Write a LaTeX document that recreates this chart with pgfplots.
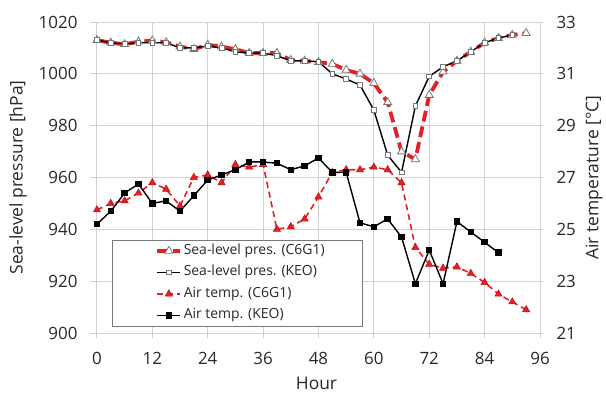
\documentclass[border=0pt]{standalone}
\usepackage{pgfplots}
\pgfplotsset{compat=1.18}
\usepackage{fontspec}
\setmainfont{Open Sans}

\definecolor{cred}{RGB}{226,32,38}
\definecolor{cdred}{RGB}{190,20,25}
\definecolor{cgrid}{RGB}{210,210,210}
\definecolor{cmark}{RGB}{120,120,120}
\definecolor{ctext}{RGB}{40,40,40}

% Sea-level pressure [hPa]
\pgfplotstableread{
h p
0 1013
3 1012
6 1011.4
9 1012.4
12 1012.8
15 1012.2
18 1010.5
21 1009.5
24 1011.2
27 1010.5
30 1009.5
33 1008
36 1008
39 1008
42 1005.3
45 1005
48 1004.5
51 1003.8
54 1001.5
57 1000
60 996.4
63 989
66 970
69 967
72 991.8
75 1000.8
78 1005
81 1008.5
84 1012
87 1013.8
90 1015
93 1015.7
}\presCsix

\pgfplotstableread{
h p
0 1013
3 1012
6 1011.5
9 1012
12 1012
15 1012
18 1010
21 1010
24 1010.7
27 1010
30 1008.5
33 1008
36 1008
39 1007
42 1005
45 1005
48 1004.7
51 1000
54 998
57 995.7
60 986
63 968.6
66 962
69 987.6
72 999
75 1002.7
78 1005
81 1008.5
84 1012
87 1013.8
90 1015
}\presKEO

% Air temperature [deg C]
\pgfplotstableread{
h t
0 25.75
3 26.0
6 26.1
9 26.4
12 26.8
15 26.55
18 25.9
21 27.0
24 27.1
27 26.8
30 27.5
33 27.4
36 27.5
39 25.0
42 25.1
45 25.4
48 26.25
51 27.2
54 27.3
57 27.3
60 27.4
63 27.3
66 26.8
69 24.3
72 23.65
75 23.5
78 23.55
81 23.3
84 22.95
87 22.5
90 22.2
93 21.9
}\tempCsix

\pgfplotstableread{
h t
0 25.2
3 25.7
6 26.4
9 26.75
12 26.0
15 26.1
18 25.7
21 26.3
24 26.9
27 27.1
30 27.3
33 27.6
36 27.6
39 27.55
42 27.3
45 27.45
48 27.75
51 27.2
54 27.2
57 25.25
60 25.1
63 25.4
66 24.7
69 22.9
72 24.2
75 22.9
78 25.3
81 24.9
84 24.5
87 24.1
}\tempKEO

\pgfplotsset{
  common/.style={
    scale only axis,
    width=453bp, height=311bp,
    xmin=-1.5, xmax=96.65,
    xtick={0,12,...,96},
    /pgf/number format/assume math mode=true,
    /pgf/number format/1000 sep={},
    ticklabel style={font=\fontsize{17}{20}\selectfont, text=ctext},
    clip=false,
  },
  presC/.style={cred, line width=3.8bp, dash pattern=on 11bp off 5bp,
    mark=triangle*, mark size=4.6bp,
    mark options={solid, fill=white, draw=cmark, line width=0.8bp}},
  presK/.style={black, line width=1.4bp,
    mark=square*, mark size=2.4bp,
    mark options={solid, fill=white, draw=cmark, line width=0.8bp}},
  tempC/.style={cred, line width=1.6bp, dash pattern=on 6bp off 4bp,
    mark=triangle*, mark size=4.2bp,
    mark options={solid, fill=cred, draw=cdred, line width=0.5bp}},
  tempK/.style={black, line width=1.4bp,
    mark=square*, mark size=2.5bp,
    mark options={solid, fill=black, draw=black}},
}

\begin{document}
\begin{tikzpicture}
% page frame: plot area plus the room for labels around it
\useasboundingbox (-90bp,-60bp) rectangle (516bp,333bp);
% left axis: pressure
\begin{axis}[common,
  ymin=900, ymax=1020,
  ytick={900,920,...,1020},
  grid=major, grid style={cgrid, line width=0.9bp},
  axis line style={draw=none},
  xtick pos=bottom, ytick pos=left,
  tick align=outside,
  xtick style={draw=cgrid, line width=0.9bp},
  ytick style={draw=none},
  major tick length=5bp,
  xticklabel style={yshift=-11bp},
  yticklabel style={xshift=-4bp},
  xlabel={Hour},
  ylabel={Sea-level pressure [hPa]},
  every axis x label/.style={at={(axis description cs:0.5,0)}, anchor=center,
    yshift=-50bp, font=\fontsize{17.5}{21}\selectfont, text=ctext},
  every axis y label/.style={at={(axis description cs:-0.159,0.5)}, anchor=center,
    rotate=90, font=\fontsize{17.5}{21}\selectfont, text=ctext},
]
\draw[cgrid, line width=0.9bp] (rel axis cs:0,0) -- (rel axis cs:1,0);
\addplot[presC] table[x=h, y=p] {\presCsix};
\addplot[presK] table[x=h, y=p] {\presKEO};
\end{axis}

% right axis: air temperature
\begin{axis}[common,
  ymin=21, ymax=33,
  ytick={21,23,...,33},
  hide x axis,
  axis y line*=right,
  axis line style={draw=none},
  ytick style={draw=none},
  yticklabel style={xshift=10bp},
  ylabel={Air temperature [°C]},
  every axis y label/.style={at={(axis description cs:1.1126,0.5)}, anchor=center,
    rotate=90, font=\fontsize{17.5}{21}\selectfont, text=ctext},
  legend cell align=left,
  legend image code/.code={
    \draw[mark repeat=2, mark phase=2, #1] plot coordinates {(0bp,0bp) (11.5bp,0bp) (23bp,0bp)};
  },
  legend style={at={(axis description cs:0.0486,0.299)}, anchor=north west,
    draw=cmark, line width=0.9bp, fill=white,
    inner xsep=43bp, inner ysep=4bp,
    font=\fontsize{14}{16}\selectfont, text=ctext,
    row sep=8.5bp,
    nodes={inner xsep=1.5bp, inner ysep=0bp, text height=10bp, text depth=3bp,
      text width=134bp, align=flush left}},
]
\addlegendimage{presC}
\addlegendentry{\mbox{Sea-level pres. (C6G1)}}
\addlegendimage{presK}
\addlegendentry{\mbox{Sea-level pres. (KEO)}}
\addplot[tempC] table[x=h, y=t] {\tempCsix};
\addlegendentry{\mbox{Air temp. (C6G1)}}
\addplot[tempK] table[x=h, y=t] {\tempKEO};
\addlegendentry{\mbox{Air temp. (KEO)}}
\end{axis}
\end{tikzpicture}
\end{document}
